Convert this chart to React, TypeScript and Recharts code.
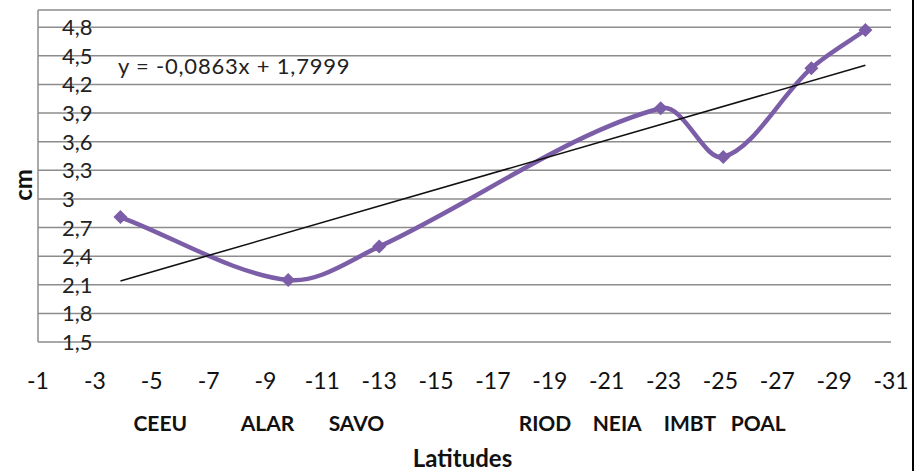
import { LineChart, Line, XAxis, YAxis, CartesianGrid } from "recharts";

// measured stations: latitude (x) and value in cm (y)
const latitudes = [-3.9, -9.8, -13.0, -22.9, -25.1, -28.2, -30.1];
const heights = [2.81, 2.15, 2.5, 3.95, 3.44, 4.37, 4.77];

// linear trend line end points
const trendX = [-3.9, -30.1];
const trendY = [2.14, 4.4];

const xTicks = [-1, -3, -5, -7, -9, -11, -13, -15, -17, -19, -21, -23, -25, -27, -29, -31];
const yTicks = [1.5, 1.8, 2.1, 2.4, 2.7, 3, 3.3, 3.6, 3.9, 4.2, 4.5, 4.8];

// station names written under the latitude axis
const stationNames = ["CEEU", "ALAR", "SAVO", "RIOD", "NEIA", "IMBT", "POAL"];
const stationLabelAt = [-5.3, -9.07, -12.2, -18.83, -21.37, -23.93, -26.33];

const equationText = "y = -0,0863x + 1,7999";

const purple = "#7c5ea8";
const font = "Lato, 'Open Sans', sans-serif";

const series = latitudes.map((x, i) => ({ x, y: heights[i] }));
const trend = trendX.map((x, i) => ({ x, y: trendY[i] }));

// Excel-like smoothed line: cubic bezier with chord-scaled tangents
const excelSmooth = (context: any) => {
  let pts: number[][] = [];
  const dist = (a: number[], b: number[]) => Math.hypot(b[0] - a[0], b[1] - a[1]);
  return {
    areaStart() {},
    areaEnd() {},
    lineStart() {
      pts = [];
    },
    point(x: number, y: number) {
      pts.push([x, y]);
    },
    lineEnd() {
      const n = pts.length;
      if (!n) return;
      const tangents = pts.map((p, i) => {
        const a = pts[Math.max(i - 1, 0)];
        const b = pts[Math.min(i + 1, n - 1)];
        const d = dist(a, p) + dist(p, b) || 1;
        return [(b[0] - a[0]) / d, (b[1] - a[1]) / d];
      });
      context.moveTo(pts[0][0], pts[0][1]);
      for (let i = 0; i < n - 1; i++) {
        const p1 = pts[i];
        const p2 = pts[i + 1];
        const seg = dist(p1, p2) / 3;
        const t1 = tangents[i];
        const t2 = tangents[i + 1];
        context.bezierCurveTo(
          p1[0] + t1[0] * seg,
          p1[1] + t1[1] * seg,
          p2[0] - t2[0] * seg,
          p2[1] - t2[1] * seg,
          p2[0],
          p2[1]
        );
      }
    },
  };
};

const Diamond = (props: any) => {
  const { cx, cy, index } = props;
  const r = 7;
  return (
    <polygon
      key={`d-${index}`}
      points={`${cx},${cy - r} ${cx + r},${cy} ${cx},${cy + r} ${cx - r},${cy}`}
      fill={purple}
    />
  );
};

const YTick = (props: any) => {
  const { x, y, payload } = props;
  return (
    <text x={x + 24} y={y + 8} textAnchor="start" fontFamily={font} fontSize={22} fill="#222">
      {String(payload.value).replace(".", ",")}
    </text>
  );
};

const XTick = (props: any) => {
  const { x, y, payload } = props;
  return (
    <text x={x} y={y + 47} textAnchor="middle" fontFamily={font} fontSize={23} fill="#111">
      {String(payload.value)}
    </text>
  );
};

const StationTick = (props: any) => {
  const { x, y, payload } = props;
  const idx = stationLabelAt.indexOf(payload.value);
  return (
    <text x={x} y={y + 29} textAnchor="middle" fontFamily={font} fontSize={21} fontWeight="bold" fill="#111">
      {stationNames[idx]}
    </text>
  );
};

export default function App() {
  return (
    <div style={{ position: "absolute", left: 0, top: 0, width: 917, height: 471, background: "#fff" }}>
      <LineChart width={912} height={471} margin={{ top: 10, right: 21, bottom: 0, left: 0 }}>
        <CartesianGrid horizontal vertical={false} stroke="#8c8c8c" strokeWidth={1.5} />
        <XAxis
          type="number"
          dataKey="x"
          domain={[-31, -1]}
          reversed
          ticks={xTicks}
          interval={0}
          axisLine={false}
          tickLine={false}
          tickSize={0}
          tickMargin={0}
          height={60}
          tick={<XTick />}
        />
        <XAxis
          xAxisId="cat"
          type="number"
          dataKey="x"
          domain={[-31, -1]}
          allowDataOverflow
          reversed
          ticks={stationLabelAt}
          interval={0}
          axisLine={false}
          tickLine={false}
          tickSize={0}
          tickMargin={0}
          height={69}
          tick={<StationTick />}
          label={{
            content: (p: any) => {
              const vb = p.viewBox;
              return (
                <text
                  x={vb.x + vb.width / 2 - 2}
                  y={vb.y + 65}
                  textAnchor="middle"
                  fontFamily={font}
                  fontSize={24}
                  fontWeight="bold"
                  fill="#111"
                >
                  Latitudes
                </text>
              );
            },
          }}
        />
        <YAxis
          type="number"
          domain={[1.5, 4.98]}
          ticks={yTicks}
          interval={0}
          width={38}
          axisLine={{ stroke: "#8c8c8c", strokeWidth: 1.5 }}
          tickLine={false}
          tickSize={0}
          tickMargin={0}
          tick={<YTick />}
          label={{
            content: (p: any) => {
              const vb = p.viewBox;
              const cx = 32;
              const cy = vb.y + 175;
              return (
                <text
                  x={cx}
                  y={cy}
                  transform={`rotate(-90 ${cx} ${cy})`}
                  textAnchor="middle"
                  fontFamily={font}
                  fontSize={24}
                  fontWeight="bold"
                  fill="#111"
                >
                  cm
                </text>
              );
            },
          }}
        />
        <Line
          data={series}
          dataKey="y"
          type={excelSmooth as any}
          stroke={purple}
          strokeWidth={4.5}
          dot={<Diamond />}
          activeDot={false}
          isAnimationActive={false}
        />
        <Line
          xAxisId="cat"
          data={trend}
          dataKey="y"
          type="linear"
          stroke="#111"
          strokeWidth={1.6}
          dot={false}
          activeDot={false}
          isAnimationActive={false}
        />
      </LineChart>
      <div
        style={{
          position: "absolute",
          left: 118,
          top: 52,
          fontFamily: font,
          fontSize: 22,
          letterSpacing: 0.8,
          color: "#222",
          whiteSpace: "nowrap",
          lineHeight: "28px",
        }}
      >
        {equationText}
      </div>
      <div style={{ position: "absolute", left: 912, top: 0, width: 2, height: 471, background: "#000" }} />
    </div>
  );
}
